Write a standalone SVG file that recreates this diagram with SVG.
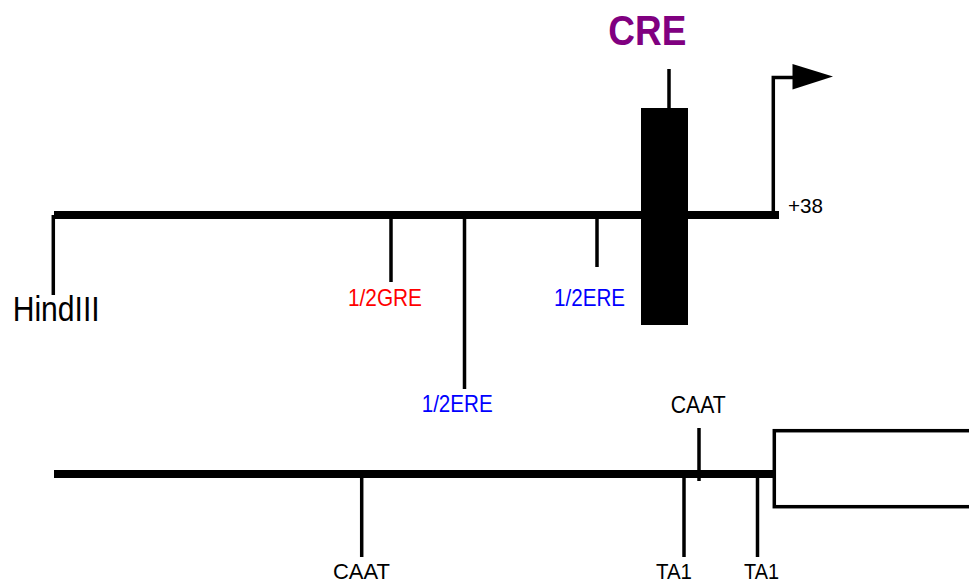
<svg xmlns="http://www.w3.org/2000/svg" width="969" height="584" viewBox="0 0 969 584">
<style>
.t{font-family:"Liberation Sans",Arial,sans-serif;fill:#000}
.red{fill:#ff0000}
.blue{fill:#0000ff}
.thick{stroke:#000;stroke-width:8;fill:none}
.tick{stroke:#000;stroke-width:3.5;fill:none}
</style>
<rect width="969" height="584" fill="#fff"/>
<g id="connectors">
<line class="thick" x1="54" y1="215" x2="779" y2="215"/>
<line class="thick" x1="54" y1="474" x2="775" y2="474"/>
</g>
<g id="hindiii">
<line class="tick" x1="53.3" y1="215" x2="53.3" y2="295"/>
<text class="t" x="12.7" y="320.5" font-size="35" textLength="87" lengthAdjust="spacingAndGlyphs">HindIII</text>
</g>
<g id="gre">
<line class="tick" x1="391" y1="219" x2="391" y2="282"/>
<text class="t red" x="348" y="306" font-size="24" textLength="74" lengthAdjust="spacingAndGlyphs">1/2GRE</text>
</g>
<g id="ere1">
<line class="tick" x1="464.5" y1="219" x2="464.5" y2="389"/>
<text class="t blue" x="421.7" y="412" font-size="24" textLength="71" lengthAdjust="spacingAndGlyphs">1/2ERE</text>
</g>
<g id="ere2">
<line class="tick" x1="597" y1="219" x2="597" y2="267"/>
<text class="t blue" x="554" y="306" font-size="24" textLength="71" lengthAdjust="spacingAndGlyphs">1/2ERE</text>
</g>
<g id="cre">
<line class="tick" x1="669" y1="69" x2="669" y2="110"/>
<rect x="641" y="108" width="47" height="217" fill="#000"/>
<text class="t" x="608.3" y="45" font-size="42" font-weight="bold" fill="#800080" style="fill:#800080" textLength="78" lengthAdjust="spacingAndGlyphs">CRE</text>
</g>
<g id="tss">
<polyline points="773.3,218 773.3,77.5 795,77.5" fill="none" stroke="#000" stroke-width="3.5"/>
<polygon points="792.5,64 833,76.5 792.5,89.5" fill="#000"/>
<text class="t" x="788" y="213" font-size="21" textLength="35" lengthAdjust="spacingAndGlyphs">+38</text>
</g>
<g id="caat1">
<line class="tick" x1="361.7" y1="478" x2="361.7" y2="557"/>
<text class="t" x="333" y="578.5" font-size="22" textLength="57" lengthAdjust="spacingAndGlyphs">CAAT</text>
</g>
<g id="caat2">
<line class="tick" x1="699" y1="428" x2="699" y2="481"/>
<text class="t" x="670.7" y="413" font-size="23" textLength="55" lengthAdjust="spacingAndGlyphs">CAAT</text>
</g>
<g id="ta1a">
<line class="tick" x1="684" y1="478" x2="684" y2="557"/>
<text class="t" x="656" y="578.5" font-size="22" textLength="36" lengthAdjust="spacingAndGlyphs">TA1</text>
</g>
<g id="ta1b">
<line class="tick" x1="757.5" y1="478" x2="757.5" y2="557"/>
<text class="t" x="744" y="578.5" font-size="22" textLength="35" lengthAdjust="spacingAndGlyphs">TA1</text>
</g>
<g id="gene">
<rect x="774.3" y="430.7" width="220" height="76" fill="#fff" stroke="#000" stroke-width="3.5"/>
</g>
</svg>
